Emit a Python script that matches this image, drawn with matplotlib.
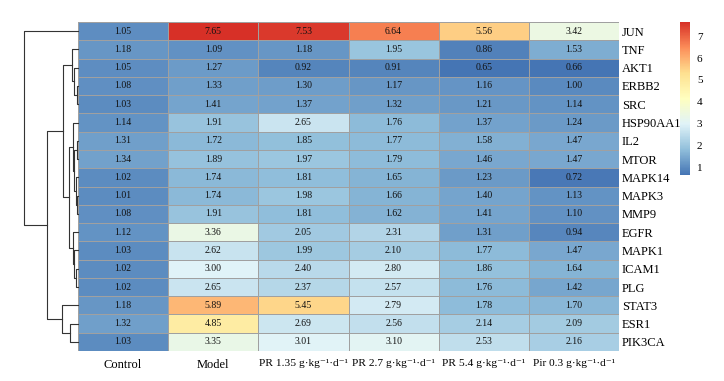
import numpy as np
import matplotlib
matplotlib.use("Agg")
import matplotlib.pyplot as plt
from matplotlib.colors import LinearSegmentedColormap

plt.rcParams['font.family'] = ['Liberation Serif', 'DejaVu Serif']

genes = ["JUN", "TNF", "AKT1", "ERBB2", "SRC", "HSP90AA1", "IL2", "MTOR",
         "MAPK14", "MAPK3", "MMP9", "EGFR", "MAPK1", "ICAM1", "PLG",
         "STAT3", "ESR1", "PIK3CA"]
groups = ["Control", "Model",
          "PR 1.35 g·kg⁻¹·d⁻¹", "PR 2.7 g·kg⁻¹·d⁻¹",
          "PR 5.4 g·kg⁻¹·d⁻¹", "Pir 0.3 g·kg⁻¹·d⁻¹"]

control = [1.05, 1.18, 1.05, 1.08, 1.03, 1.14, 1.31, 1.34, 1.02, 1.01, 1.08, 1.12, 1.03, 1.02, 1.02, 1.18, 1.32, 1.03]
model = [7.65, 1.09, 1.27, 1.33, 1.41, 1.91, 1.72, 1.89, 1.74, 1.74, 1.91, 3.36, 2.62, 3.00, 2.65, 5.89, 4.85, 3.35]
pr135 = [7.53, 1.18, 0.92, 1.30, 1.37, 2.65, 1.85, 1.97, 1.81, 1.98, 1.81, 2.05, 1.99, 2.40, 2.37, 5.45, 2.69, 3.01]
pr27 = [6.64, 1.95, 0.91, 1.17, 1.32, 1.76, 1.77, 1.79, 1.65, 1.66, 1.62, 2.31, 2.10, 2.80, 2.57, 2.79, 2.56, 3.10]
pr54 = [5.56, 0.86, 0.65, 1.16, 1.21, 1.37, 1.58, 1.46, 1.23, 1.40, 1.41, 1.31, 1.77, 1.86, 1.76, 1.78, 2.14, 2.53]
pir03 = [3.42, 1.53, 0.66, 1.00, 1.14, 1.24, 1.47, 1.47, 0.72, 1.13, 1.10, 0.94, 1.47, 1.64, 1.42, 1.70, 2.09, 2.16]

data = np.array([control, model, pr135, pr27, pr54, pir03]).T
n = len(genes)

cmap = LinearSegmentedColormap.from_list(
    "ph", ["#4575B4", "#91BFDB", "#E0F3F8", "#FFFFBF", "#FEE090", "#FC8D59", "#D73027"])

# complete-linkage clustering of the rows (euclidean)
D = np.sqrt(((data[:, None, :] - data[None, :, :]) ** 2).sum(-1))
clusters = {i: [i] for i in range(n)}
pos = {i: i + 0.5 for i in range(n)}
hgt = {i: 0.0 for i in range(n)}
merges = []
nid = n
while len(clusters) > 1:
    keys = list(clusters)
    best = None
    for a in range(len(keys)):
        for b in range(a + 1, len(keys)):
            d = D[np.ix_(clusters[keys[a]], clusters[keys[b]])].max()
            if best is None or d < best[0]:
                best = (d, keys[a], keys[b])
    d, ka, kb = best
    clusters[nid] = clusters.pop(ka) + clusters.pop(kb)
    merges.append((ka, kb, d))
    pos[nid] = (pos[ka] + pos[kb]) / 2
    hgt[nid] = d
    nid += 1

W, H = 724, 381
fig = plt.figure(figsize=(W / 100, H / 100), dpi=100)

top, bot = 22, 351
ax = fig.add_axes([78 / W, 1 - bot / H, (619 - 78) / W, (bot - top) / H])
mesh = ax.pcolormesh(data, cmap=cmap, vmin=0.65, vmax=7.65,
                     edgecolors="#a0a0a0", linewidth=0.6)
ax.set_ylim(n, 0)
ax.set_xlim(0, 6)
for i in range(n):
    for j in range(6):
        ax.text(j + 0.5, i + 0.5, f"{data[i, j]:.2f}", ha="center", va="center",
                fontsize=7, color="#111111")
ax.set_xticks(np.arange(6) + 0.5)
ax.set_xticklabels(groups, fontsize=9)
for lab in ax.get_xticklabels()[2:]:
    lab.set_fontsize(8.2)
ax.set_yticks(np.arange(n) + 0.5)
ax.set_yticklabels(genes, fontsize=9)
ax.yaxis.tick_right()
ax.tick_params(length=0, pad=2)
ax.tick_params(axis="x", pad=6)
for s in ax.spines.values():
    s.set_visible(False)

# dendrogram
dax = fig.add_axes([24 / W, 1 - bot / H, (78 - 24) / W, (bot - top) / H])
for ka, kb, d in merges:
    dax.plot([hgt[ka], d, d, hgt[kb]], [pos[ka], pos[ka], pos[kb], pos[kb]],
             color="#333333", lw=0.8, clip_on=False)
dax.set_xlim(max(hgt.values()), 0)
dax.set_ylim(n, 0)
dax.axis("off")

# colorbar
cax = fig.add_axes([680 / W, 1 - 175 / H, 10 / W, (175 - 22) / H])
cb = fig.colorbar(mesh, cax=cax, ticks=range(1, 8))
cb.outline.set_visible(False)
cb.ax.tick_params(length=0, labelsize=8, pad=5)

fig.savefig("out.png", dpi=100)
